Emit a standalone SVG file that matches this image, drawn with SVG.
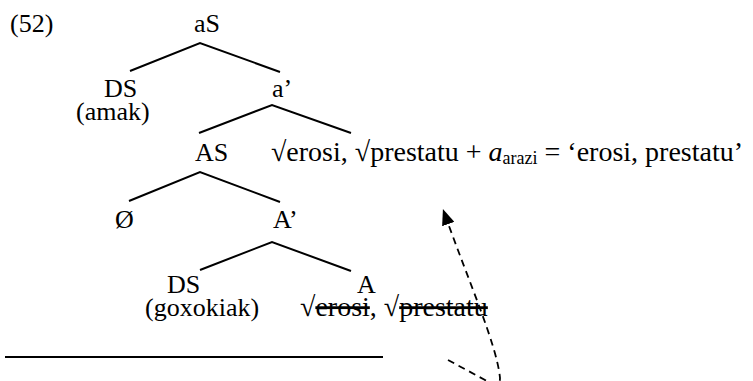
<svg xmlns="http://www.w3.org/2000/svg" width="753" height="381" viewBox="0 0 753 381">
<style>
text{font-family:"Liberation Serif","Times New Roman",serif;font-size:26px;fill:#000}
.r{font-size:28px}
.e{stroke:#000;stroke-width:2;fill:none}
.d{stroke:#000;stroke-width:1.8;fill:none;stroke-dasharray:7 5}
.s{text-decoration:line-through}
</style>
<defs>
<marker id="ah" viewBox="0 0 10 10" refX="8" refY="5" markerWidth="16" markerHeight="13" markerUnits="userSpaceOnUse" orient="auto" preserveAspectRatio="none">
<path d="M0,0 L10,5 L0,10 z" fill="#000"/>
</marker>
</defs>
<text x="10" y="32">(52)</text>
<g id="n-aS"><text x="194" y="32">aS</text></g>
<g id="n-DS1"><text x="104" y="97">DS</text><text x="76" y="120" font-size="25">(amak)</text></g>
<g id="n-a1"><text x="272" y="97">a’</text></g>
<g id="n-AS"><text x="195" y="161">AS</text></g>
<g id="n-root1"><text class="r" x="271" y="161">√erosi, √prestatu + <tspan font-style="italic">a</tspan><tspan font-size="18" dy="3">arazi</tspan><tspan dy="-3"> = ‘erosi, prestatu’</tspan></text></g>
<g id="n-O"><text x="115" y="228">Ø</text></g>
<g id="n-A1"><text x="273" y="228">A’</text></g>
<g id="n-DS2"><text x="167" y="293">DS</text><text x="145" y="316">(goxokiak)</text></g>
<g id="n-A"><text x="357" y="293">A</text><text class="r" x="300" y="316">√<tspan class="s">erosi</tspan>, √<tspan class="s">prestatu</tspan></text></g>
<g id="connectors">
<path class="e" d="M130,71 L200,43 L280,72"/>
<path class="e" d="M199,133 L272,105 L351,133"/>
<path class="e" d="M129,201 L200,172 L280,202"/>
<path class="e" d="M200,270 L272,242 L351,271"/>
<path class="e" d="M5,357 L383,357"/>
<path class="d" d="M448,360 L485,380 Q500,390 500,378 C497,345 468,280 444,212" marker-end="url(#ah)"/>
</g>
</svg>
